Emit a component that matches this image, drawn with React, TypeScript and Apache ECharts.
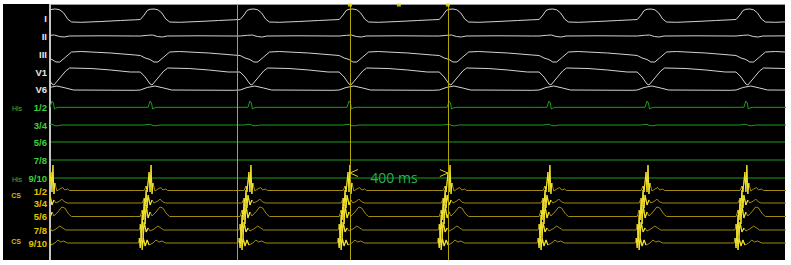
import React, { useEffect, useRef } from "react";
import * as echarts from "echarts";

// Beat (His deflection) times in ms; x axis spans 0..3000 ms
const beatTimes = [4, 405, 813, 1218, 1627, 2035, 2436, 2840];
const markerTimes = [760];
const caliperTimes = [1222, 1622];
const caliperDots = [1222, 1422, 1622];
const caliperText = "400 ms";

const surfaceNames = ["I", "II", "III", "V1", "V6"];
const hisNames = ["1/2", "3/4", "5/6", "7/8", "9/10"];
const csNames = ["1/2", "3/4", "5/6", "7/8", "9/10"];

// per-beat templates: [ms offset from His deflection, level]
const beatI = [[-40, 19.5], [-24, 15], [-12, 10.5], [0, 9.3], [16, 9], [32, 9.8], [48, 13], [64, 19], [80, 22], [120, 22.3], [200, 21.5], [280, 20.5], [340, 19.8]];
const beatII = [[-40, 36], [-10, 35.3], [10, 35], [30, 36.5], [50, 37], [70, 36], [200, 35.8], [340, 36]];
const beatIII = [[-40, 55.5], [-20, 58], [0, 59.5], [16, 62], [32, 62], [56, 57], [80, 52], [120, 51.5], [240, 53], [340, 55]];
const beatV1 = [[-40, 72], [-20, 77], [0, 84], [8, 85], [32, 78], [56, 71], [72, 68], [160, 68.5], [240, 70], [320, 72]];
const beatV6 = [[-40, 90], [-12, 87.5], [20, 86], [56, 88], [88, 90], [340, 90.3]];

const beatHis12 = [[-8, 107.3], [0, 101], [6, 103], [10, 109], [16, 108], [28, 107.3], [340, 107.3]];
const beatHis34 = [[-24, 125], [-12, 124.5], [0, 124.3], [12, 125.6], [24, 125.8], [40, 125], [340, 125]];
const flatHis56 = [[0, 142], [3000, 142]];
const flatHis78 = [[0, 160], [3000, 160]];
const flatHis910 = [[0, 178], [3000, 178]];

const beatCS12 = [[-24, 190.5], [-16, 186], [-12, 192], [-4, 172], [0, 192], [4, 165], [8, 194], [12, 183], [20, 191], [32, 189], [44, 187.5], [52, 190], [64, 189], [72, 190.5], [340, 190.5]];
const beatCS34 = [[-32, 203], [-24, 198], [-20, 206], [-16, 190], [-12, 208], [-8, 195], [0, 205], [8, 200], [16, 203], [32, 201], [40, 199], [52, 202], [64, 203], [340, 203]];
const beatCS56 = [[-40, 216.5], [-32, 210], [-28, 220], [-24, 200], [-20, 224], [-16, 205], [-8, 218], [0, 212], [8, 216], [24, 212], [40, 207], [52, 208], [68, 214], [80, 216.5], [340, 216.5]];
const beatCS78 = [[-44, 230], [-40, 224], [-36, 235], [-32, 215], [-28, 238], [-24, 222], [-16, 232], [-8, 228], [0, 231], [16, 229], [32, 226], [44, 228], [56, 230], [340, 230]];
const beatCS910 = [[-48, 243], [-44, 238], [-40, 248], [-36, 230], [-32, 250], [-28, 238], [-20, 246], [-12, 240], [-4, 245], [12, 243], [24, 240], [36, 242], [48, 241], [64, 243], [340, 243]];
// spike windows (ms) per CS channel drawn brighter
const csSpikeWin = [[-16, 12], [-24, 8], [-32, 0], [-40, -8], [-44, -4]];

// label layout (pixel rows)
const surfaceLabelY = [18, 36, 54, 72, 89];
const hisLabelY = [107, 125, 142, 160, 178];
const csLabelY = [191, 203, 216, 230, 243];

function buildTrace(tpl: number[][], beats: number[]) {
  const out: (number | null)[][] = [];
  for (const b of beats) for (const [dt, v] of tpl) out.push([b + dt, v]);
  return out;
}
function buildSpikes(tpl: number[][], beats: number[], win: number[]) {
  const out: (number | null)[][] = [];
  for (const b of beats) {
    for (const [dt, v] of tpl) if (dt >= win[0] && dt <= win[1]) out.push([b + dt, v]);
    out.push([b + win[1] + 1, null]);
  }
  return out;
}

export default function App() {
  const ref = useRef<HTMLDivElement>(null);
  useEffect(() => {
    document.body.style.margin = "0";
    const chart = echarts.init(ref.current!, null, { renderer: "svg" });
    const line = (data: any, color: string, width = 1, z = 2) => ({
      type: "line", data, showSymbol: false, silent: true, z,
      lineStyle: { color, width }, connectNulls: false, clip: true,
    });
    const white = "#d2d2d2", green = "#1d9e1d", olive = "#a08a12", bright = "#efe030";
    const surf = [beatI, beatII, beatIII, beatV1, beatV6].map((t) => line(buildTrace(t, beatTimes), white));
    const his = [
      line(buildTrace(beatHis12, beatTimes), green),
      line(buildTrace(beatHis34, beatTimes), green),
      line(flatHis56, green), line(flatHis78, green), line(flatHis910, green),
    ];
    const csT = [beatCS12, beatCS34, beatCS56, beatCS78, beatCS910];
    const cs = csT.map((t) => line(buildTrace(t, beatTimes), olive));
    const csHi = csT.map((t, i) => line(buildSpikes(t, beatTimes, csSpikeWin[i]), bright, 1.1, 3));
    const series: any[] = [...surf, ...his, ...cs, ...csHi];
    series[0].markLine = {
      symbol: "none", silent: true, label: { show: false },
      data: [
        ...markerTimes.map((x) => ({ xAxis: x, lineStyle: { color: "#9a9a9a", width: 1, type: "solid" } })),
        ...caliperTimes.map((x) => ({ xAxis: x, lineStyle: { color: "#b0a800", width: 1, type: "solid" } })),
      ],
    };
    series.push({
      type: "scatter", data: caliperDots.map((x) => [x, 5]), symbol: "rect", symbolSize: [4, 3],
      itemStyle: { color: "#f0e000" }, silent: true, z: 5,
    });

    const texts: any[] = [];
    const lab = (text: string, x: number, y: number, fill: string, font: string, align = "right") =>
      texts.push({ type: "text", style: { text, x, y, fill, font, align, verticalAlign: "middle", textAlign: align, textVerticalAlign: "middle" } });
    const f = "bold 9.5px 'Liberation Sans', Arial, sans-serif";
    surfaceNames.forEach((n, i) => lab(n, 47, surfaceLabelY[i], "#e6e6e6", f));
    hisNames.forEach((n, i) => lab(n, 47, hisLabelY[i], "#3ccf3c", f));
    csNames.forEach((n, i) => lab(n, 47, csLabelY[i], "#e2c200", f));
    lab("His", 17, 108, "#49b449", "7px 'Liberation Sans', Arial, sans-serif", "center");
    lab("His", 17, 179, "#49b449", "7px 'Liberation Sans', Arial, sans-serif", "center");
    lab("CS", 16, 195, "#d8b800", "bold 7px 'Liberation Sans', Arial, sans-serif", "center");
    lab("CS", 16, 241, "#d8b800", "bold 7px 'Liberation Sans', Arial, sans-serif", "center");

    chart.setOption({
      animation: false,
      backgroundColor: "transparent",
      grid: { left: 51, right: 6, top: 4, bottom: 5 },
      xAxis: { type: "value", min: 0, max: 3000, show: false },
      yAxis: { type: "value", min: 4, max: 260, inverse: true, show: false },
      series,
    });

    const [lx, ly] = chart.convertToPixel({ gridIndex: 0 } as any, [caliperTimes[0], 173]) as number[];
    const [rx] = chart.convertToPixel({ gridIndex: 0 } as any, [caliperTimes[1], 173]) as number[];
    const arrow = "#e0d020";
    chart.setOption({
      graphic: [
        { type: "line", shape: { x1: 50, y1: 4.5, x2: 785, y2: 4.5 }, style: { stroke: "#9a9a9a", lineWidth: 1 }, silent: true },
        { type: "line", shape: { x1: 50, y1: 4, x2: 50, y2: 260 }, style: { stroke: "#c4c4c4", lineWidth: 2 }, silent: true },
        { type: "polyline", shape: { points: [[lx + 8, ly - 3.5], [lx, ly], [lx + 8, ly + 3.5]] }, style: { stroke: arrow, lineWidth: 1, fill: "none" }, silent: true, z: 10 },
        { type: "polyline", shape: { points: [[rx - 8, ly - 3.5], [rx, ly], [rx - 8, ly + 3.5]] }, style: { stroke: arrow, lineWidth: 1, fill: "none" }, silent: true, z: 10 },
        { type: "text", style: { text: caliperText, x: (lx + rx) / 2 - 5, y: 177, fill: "#22b455", font: "14px 'Open Sans', 'Liberation Sans', Arial, sans-serif", align: "center", verticalAlign: "middle", textAlign: "center", textVerticalAlign: "middle" }, silent: true, z: 10 },
        ...texts,
      ],
    });
    return () => chart.dispose();
  }, []);
  return (
    <div style={{ position: "relative", width: 791, height: 265, background: "#fff" }}>
      <div style={{ position: "absolute", left: 3, top: 4, width: 782, height: 256, background: "#000" }} />
      <div ref={ref} style={{ position: "absolute", left: 0, top: 0, width: 791, height: 265 }} />
    </div>
  );
}
